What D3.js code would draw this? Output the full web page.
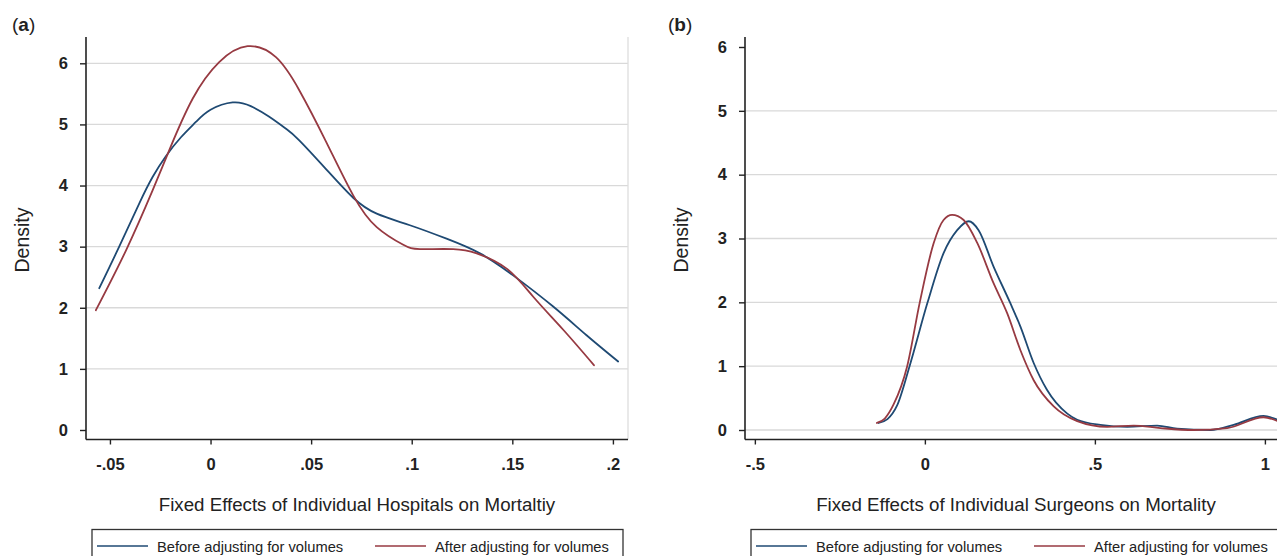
<!DOCTYPE html>
<html>
<head>
<meta charset="utf-8">
<script src="https://cdn.jsdelivr.net/npm/d3@7/dist/d3.min.js"></script>
<style>
  html, body { margin: 0; padding: 0; background: #ffffff; }
  svg { display: block; font-family: "Liberation Sans", Arial, Helvetica, sans-serif; }
</style>
</head>
<body>
<svg id="chart" width="1277" height="556"></svg>
<script>
// ---------- DATA ----------
const seriesNames = ["Before adjusting for volumes", "After adjusting for volumes"];
const seriesColors = ["#1f4a73", "#973a42"];

const yTicks = [0, 1, 2, 3, 4, 5, 6];
const yTickLabels = ["0", "1", "2", "3", "4", "5", "6"];

// Panel (a): hospitals
const hospXTicks = [-0.05, 0, 0.05, 0.1, 0.15, 0.2];
const hospXTickLabels = ["-.05", "0", ".05", ".1", ".15", ".2"];
const hospBefore = [
  [-0.0553, 2.32], [-0.0454, 3.00], [-0.0354, 3.71], [-0.0288, 4.14], [-0.0222, 4.48],
  [-0.0147, 4.79], [-0.0073, 5.04], [0.0000, 5.24], [0.0110, 5.36], [0.0200, 5.30],
  [0.0290, 5.13], [0.0375, 4.93], [0.0441, 4.74], [0.0574, 4.27], [0.0709, 3.80],
  [0.0826, 3.54], [0.0991, 3.35], [0.1173, 3.13], [0.1339, 2.89], [0.1504, 2.53],
  [0.1703, 2.02], [0.1869, 1.55], [0.2026, 1.12]
];
const hospAfter = [
  [-0.0570, 1.96], [-0.0420, 2.94], [-0.0288, 3.92], [-0.0205, 4.58], [-0.0089, 5.42],
  [0.0043, 6.02], [0.0184, 6.28], [0.0325, 6.10], [0.0441, 5.56], [0.0574, 4.72],
  [0.0709, 3.84], [0.0826, 3.32], [0.0958, 3.03], [0.1041, 2.96], [0.1206, 2.96],
  [0.1323, 2.89], [0.1472, 2.64], [0.1604, 2.18], [0.1753, 1.64], [0.1906, 1.06]
];

// Panel (b): surgeons
const surgXTicks = [-0.5, 0, 0.5, 1];
const surgXTickLabels = ["-.5", "0", ".5", "1"];
const surgBefore = [
  [-0.136, 0.11], [-0.110, 0.17], [-0.082, 0.38], [-0.045, 1.00], [0.008, 2.00], [0.055, 2.77],
  [0.095, 3.13], [0.129, 3.27], [0.158, 3.13], [0.202, 2.56], [0.251, 1.99],
  [0.281, 1.62], [0.320, 1.05], [0.359, 0.63], [0.418, 0.26], [0.448, 0.16],
  [0.516, 0.08], [0.595, 0.05], [0.683, 0.07], [0.742, 0.02], [0.840, 0.00],
  [0.908, 0.08], [0.996, 0.22], [1.037, 0.16]
];
const surgAfter = [
  [-0.141, 0.11], [-0.118, 0.18], [-0.092, 0.40], [-0.052, 1.00], [-0.015, 2.00], [0.026, 2.93],
  [0.055, 3.29], [0.080, 3.37], [0.114, 3.29], [0.154, 2.93], [0.202, 2.30],
  [0.242, 1.83], [0.281, 1.25], [0.320, 0.78], [0.379, 0.37], [0.448, 0.14],
  [0.536, 0.05], [0.614, 0.07], [0.693, 0.03], [0.790, 0.00], [0.889, 0.03],
  [0.996, 0.20], [1.037, 0.14]
];

const panels = [
  {
    label: "a", labelX: 12, xTitle: "Fixed Effects of Individual Hospitals on Mortaltiy",
    xDomain: [-0.0619, 0.2075], xTicks: hospXTicks, xTickLabels: hospXTickLabels,
    series: [hospBefore, hospAfter], curve: d3.curveNatural,
    left: 86, right: 628, yTopVal: 63.3, grid: [1, 2, 3, 4, 5, 6], rightBorder: true
  },
  {
    label: "b", labelX: 668, xTitle: "Fixed Effects of Individual Surgeons on Mortality",
    xDomain: [-0.529, 1.065], xTicks: surgXTicks, xTickLabels: surgXTickLabels,
    series: [surgBefore, surgAfter], curve: d3.curveMonotoneX,
    left: 745, right: 1287, yTopVal: 47, grid: [0, 1, 2, 3, 4, 5], rightBorder: false
  }
];

// ---------- DRAW ----------
const svg = d3.select("#chart");
svg.append("rect").attr("width", 1277).attr("height", 556).attr("fill", "#fff");

const axisTop = 37, y0px = 430, xAxisY = 439.5;

panels.forEach((p, pi) => {
  const g = svg.append("g");
  const x = d3.scaleLinear().domain(p.xDomain).range([p.left, p.right]);
  const y = d3.scaleLinear().domain([0, 6]).range([y0px, p.yTopVal]);

  const clipId = "clip" + pi;
  svg.append("clipPath").attr("id", clipId)
    .append("rect").attr("x", p.left).attr("y", axisTop - 5)
    .attr("width", p.right - p.left).attr("height", xAxisY - axisTop + 5);

  // gridlines
  g.selectAll(".grid").data(p.grid).enter().append("line")
    .attr("x1", p.left).attr("x2", p.right)
    .attr("y1", d => y(d)).attr("y2", d => y(d))
    .attr("stroke", "#d9d9d9").attr("stroke-width", 1.3);

  if (p.rightBorder) {
    g.append("line").attr("x1", p.right).attr("x2", p.right)
      .attr("y1", axisTop).attr("y2", xAxisY)
      .attr("stroke", "#dedede").attr("stroke-width", 1.3);
  }

  // curves
  const line = d3.line().x(d => x(d[0])).y(d => y(d[1])).curve(p.curve);
  p.series.forEach((s, si) => {
    g.append("path").datum(s)
      .attr("clip-path", `url(#${clipId})`)
      .attr("d", line).attr("fill", "none")
      .attr("stroke", seriesColors[si]).attr("stroke-width", 1.8)
      .attr("stroke-linejoin", "round").attr("stroke-linecap", "round");
  });

  // y axis
  const yAxis = d3.axisLeft(y).tickValues(yTicks).tickFormat((d, i) => yTickLabels[i])
    .tickSize(6).tickPadding(12);
  const ya = g.append("g").attr("transform", `translate(${p.left},0)`).call(yAxis);
  ya.select(".domain").remove();
  ya.append("line").attr("x1", 0).attr("x2", 0).attr("y1", axisTop).attr("y2", xAxisY)
    .attr("stroke", "#222").attr("stroke-width", 1.6);
  ya.selectAll(".tick line").attr("stroke", "#222").attr("stroke-width", 1.4);
  ya.selectAll(".tick text").attr("font-size", 16.5).attr("font-weight", "bold")
    .attr("fill", "#222").attr("font-family", "'Liberation Sans', Arial, sans-serif");

  // x axis
  const xAxis = d3.axisBottom(x).tickValues(p.xTicks).tickFormat((d, i) => p.xTickLabels[i])
    .tickSize(5).tickPadding(14);
  const xa = g.append("g").attr("transform", `translate(0,${xAxisY})`).call(xAxis);
  xa.select(".domain").remove();
  xa.append("line").attr("x1", p.left).attr("x2", p.right).attr("y1", 0).attr("y2", 0)
    .attr("stroke", "#222").attr("stroke-width", 1.6);
  xa.selectAll(".tick line").attr("stroke", "#222").attr("stroke-width", 1.4);
  xa.selectAll(".tick text").attr("font-size", 16.5).attr("font-weight", "bold")
    .attr("fill", "#222").attr("font-family", "'Liberation Sans', Arial, sans-serif");

  // axis titles
  g.append("text")
    .attr("transform", `translate(${p.left - 64},240) rotate(-90)`)
    .attr("text-anchor", "middle").attr("dominant-baseline", "central")
    .attr("font-size", 19.5).attr("fill", "#222").text("Density");

  g.append("text")
    .attr("x", (p.left + p.right) / 2).attr("y", 511)
    .attr("text-anchor", "middle").attr("font-size", 18.7).attr("fill", "#222")
    .text(p.xTitle);

  // panel label
  const lab = g.append("text").attr("x", p.labelX).attr("y", 31)
    .attr("font-size", 19).attr("fill", "#222");
  lab.append("tspan").text("(");
  lab.append("tspan").attr("font-weight", "bold").text(p.label);
  lab.append("tspan").text(")");

  // legend
  const lx = p.left + 6;
  const leg = g.append("g");
  leg.append("rect").attr("x", lx).attr("y", 529.5).attr("width", 531).attr("height", 40)
    .attr("fill", "#fff").attr("stroke", "#333").attr("stroke-width", 1.3);
  const legItems = [
    { lineX: lx + 5, textX: lx + 65 },
    { lineX: lx + 283, textX: lx + 343 }
  ];
  legItems.forEach((it, i) => {
    leg.append("line").attr("x1", it.lineX).attr("x2", it.lineX + 51)
      .attr("y1", 546).attr("y2", 546)
      .attr("stroke", seriesColors[i]).attr("stroke-width", 1.6);
    leg.append("text").attr("x", it.textX).attr("y", 552)
      .attr("font-size", 14.7).attr("fill", "#222").text(seriesNames[i]);
  });
});
</script>
</body>
</html>
